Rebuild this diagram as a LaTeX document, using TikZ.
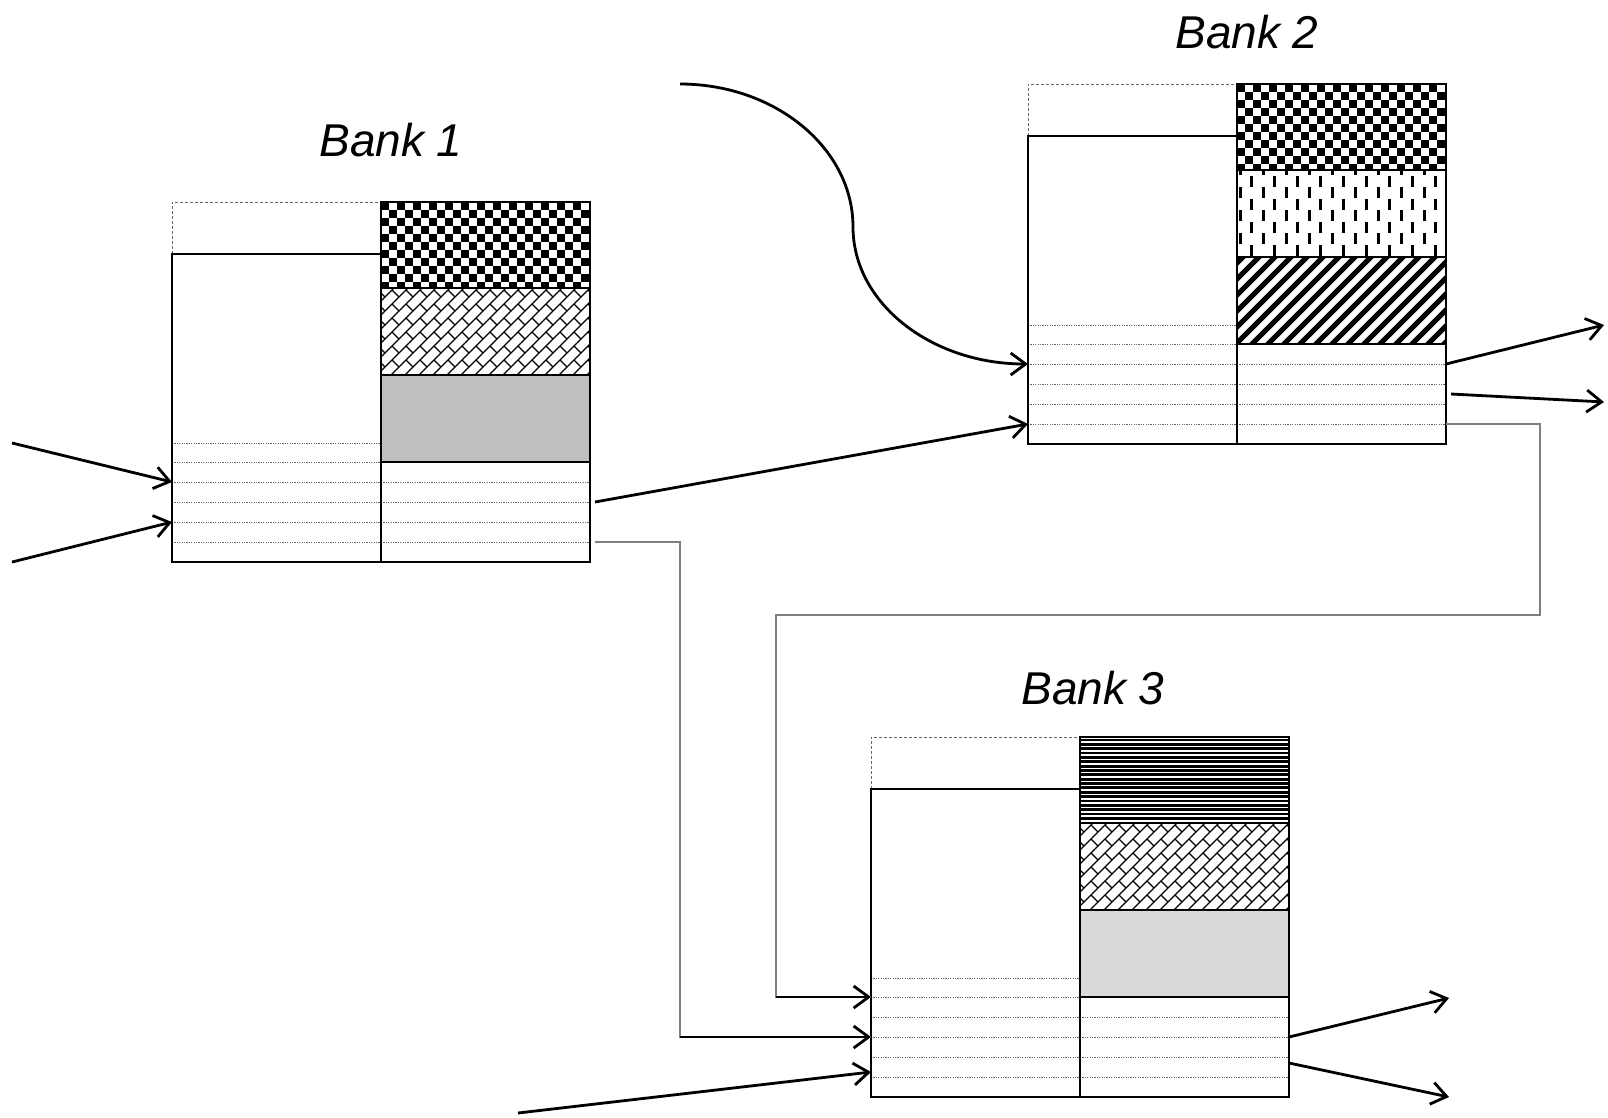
\documentclass[tikz,border=0pt]{standalone}
\usepackage{fontspec}
\setmainfont{Liberation Sans}
\usetikzlibrary{arrows.meta}
\definecolor{greyA}{HTML}{BFBFBF}
\definecolor{greyB}{HTML}{D9D9D9}
\definecolor{elbowgrey}{HTML}{7F7F7F}
\tikzset{
 frame/.style={draw=black,line width=1.3pt},
 rowline/.style={draw=black!60,line width=0.8pt,dash pattern=on 1.2pt off 1.2pt},
 dashcell/.style={draw=black!60,line width=1pt,dash pattern=on 3pt off 2pt},
 brick/.style={draw=black,line width=1.2pt},
 arr/.style={draw=black,line width=2.8pt,-{Straight Barb[length=15pt,width=22pt]}},
 elbow/.style={draw=elbowgrey,line width=1.4pt},
 lbl/.style={font=\fontsize{46}{50}\selectfont\itshape,anchor=base,inner sep=0pt},
}
\newcommand\checkerA{%
 \begin{scope}
 \clip (209,0) rectangle (418,86);
 \foreach \i in {0,...,26}{\foreach \j in {0,...,11}{%
   \pgfmathtruncatemacro\pp{mod(\i+\j,2)}%
   \ifnum\pp=0 \fill (209+8*\i,8*\j) rectangle ++(8,8);\fi}}
 \end{scope}}
\newcommand\brickB{%
 \begin{scope}
 \clip (209,86) rectangle (418,173);
 \foreach \n in {0,...,23}{%
   \pgfmathsetmacro\cc{280+14*\n}%
   \pgfmathsetmacro\off{mod(\n,2)*14}%
   \draw[brick] (\cc-80,80) -- (\cc-180,180);
   \foreach \k in {0,...,12}{%
     \pgfmathsetmacro\dd{20+28*\k+\off}%
     \draw[brick] ({(\cc+\dd)/2},{(\cc-\dd)/2}) -- ({(\cc+14+\dd)/2},{(\cc+14-\dd)/2});
   }}
 \end{scope}}
\newcommand\vdashB{%
 \begin{scope}
 \clip (209,86) rectangle (418,173);
 \foreach \i in {0,...,18}{%
  \pgfmathsetmacro\xx{210.5+11.5*\i}%
  \pgfmathsetmacro\yo{mod(\i,2)*11.5}%
  \foreach \j in {0,...,4}{%
   \fill (\xx,{80+\yo+23*\j}) rectangle ++(3.4,11);
  }}
 \end{scope}}
\newcommand\stripeC{%
 \begin{scope}
 \clip (209,173) rectangle (418,260);
 \foreach \n in {0,...,20}{%
  \pgfmathsetmacro\cc{372+16*\n}%
  \draw[line width=5pt] (\cc-165,165) -- (\cc-268,268);
 }
 \end{scope}}
\newcommand\hstripeA{%
 \begin{scope}
 \clip (209,0) rectangle (418,86);
 \foreach \k in {0,...,18} \draw[line width=2.8pt] (205,3+4.35*\k) -- (422,3+4.35*\k);
 \end{scope}}
\newcommand\bankframe[1]{%
  \foreach \r in {241,260,280,300,320,340} \draw[rowline] (0,\r) -- (209,\r);
  \foreach \r in {280,300,320,340} \draw[rowline] (209,\r) -- (418,\r);
  \draw[dashcell] (0,52) -- (0,0) -- (209,0);
  \draw[frame] (0,52) rectangle (209,360);
  \draw[frame] (209,0) rectangle (418,360);
  \foreach \s in {86,173,260} \draw[frame] (209,\s) -- (418,\s);
  \foreach \r in {260,280,300,310,320,326,335,340}{\coordinate (#1-L\r) at (0,\r); \coordinate (#1-R\r) at (418,\r);}
}
\begin{document}
\begin{tikzpicture}[x=1pt,y=-1pt]
\useasboundingbox (0,0) rectangle (1608,1117);
% Bank 1
\begin{scope}[shift={(172,202)}]
 \checkerA \brickB \fill[greyA] (209,173) rectangle (418,260);
 \bankframe{b1}
\end{scope}
% Bank 2
\begin{scope}[shift={(1028,84)}]
 \checkerA \vdashB \stripeC
 \bankframe{b2}
\end{scope}
% Bank 3
\begin{scope}[shift={(871,737)}]
 \hstripeA \brickB \fill[greyB] (209,173) rectangle (418,260);
 \bankframe{b3}
\end{scope}
% labels
\node[lbl] (t1) at (391,156) {Bank 1};
\node[lbl] (t2) at (1247,48) {Bank 2};
\node[lbl] (t3) at (1093,704) {Bank 3};
% free ends
\coordinate (in1a) at (12,443);
\coordinate (in1b) at (12,562);
\coordinate (cs) at (680,84);
\coordinate (cmid) at (853,227);
\coordinate (o1) at (1604,325);
\coordinate (o2) at (1604,402);
\coordinate (k4) at (776,615);
\coordinate (in3) at (518,1113);
\coordinate (o3) at (1449,998);
\coordinate (o4) at (1449,1097);
% connectors
\draw[arr] (in1a) -- (b1-L280);
\draw[arr] (in1b) -- (b1-L320);
\draw[arr] ([xshift=5pt]b1-R300) -- (b2-L340);
\draw[elbow] ([xshift=5pt]b1-R340) -- ++(85,0) coordinate (k1) |- (b3-L300);
\draw[arr] (k1 |- b3-L300) -- (b3-L300);
\draw[arr] (cs) .. controls (775,84) and (853,148) .. (cmid) .. controls (853,303) and (931,364) .. (b2-L280);
\draw[arr] (b2-R280) -- (o1);
\draw[arr] ([xshift=5pt]b2-R310) -- (o2);
\draw[elbow] (b2-R340) -- ++(94,0) |- (k4) |- (b3-L260);
\draw[arr] (k4 |- b3-L260) -- (b3-L260);
\draw[arr] (in3) -- (b3-L335);
\draw[arr] (b3-R300) -- (o3);
\draw[arr] (b3-R326) -- (o4);
\end{tikzpicture}
\end{document}
